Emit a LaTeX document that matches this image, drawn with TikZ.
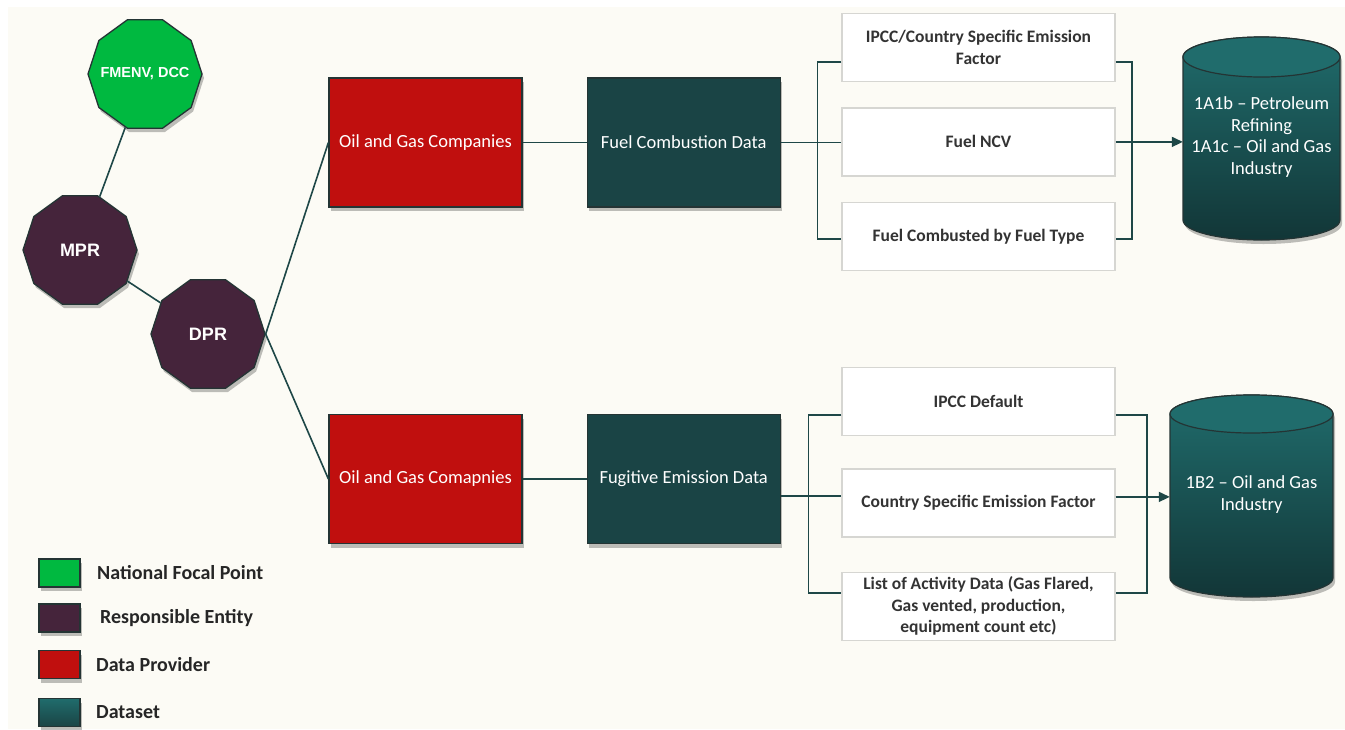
\documentclass[tikz,border=0pt]{standalone}
\usepackage{fontspec}
\setmainfont{Carlito}
\newfontfamily\octfont{Liberation Sans}
\usetikzlibrary{positioning,shapes.geometric,shadows,arrows.meta}

\definecolor{bgcream}{HTML}{FCFBF5}
\definecolor{focalgreen}{HTML}{00B940}
\definecolor{entitypurple}{HTML}{45243B}
\definecolor{providerred}{HTML}{C00F0E}
\definecolor{datateal}{HTML}{1A4445}
\definecolor{linkteal}{HTML}{1E4747}
\definecolor{cyltop}{HTML}{206C6C}
\definecolor{cylbottom}{HTML}{123637}
\definecolor{boxgray}{HTML}{D6D6D2}
\definecolor{textgray}{HTML}{333333}
\definecolor{edgedark}{HTML}{243434}

\tikzset{
  softshadow/.style={drop shadow={shadow xshift=2pt, shadow yshift=-4pt, opacity=0.25, fill=black}},
  entity/.style={regular polygon, regular polygon sides=10, minimum size=114, inner sep=0pt,
    draw=edgedark, line width=1.3pt, text=white, font=\octfont\bfseries\fontsize{18}{20}\selectfont, softshadow},
  provider/.style={rectangle, minimum width=193, minimum height=129, fill=providerred,
    draw=edgedark, line width=1.2pt, text=white, font=\fontsize{18.5}{21}\selectfont, softshadow},
  dataset/.style={provider, fill=datateal},
  factor/.style={rectangle, minimum width=273, minimum height=68, inner sep=2pt, fill=white,
    draw=boxgray, line width=1.4pt, text=textgray, align=center, font=\bfseries\fontsize{17.5}{21.5}\selectfont},
  dbtext/.style={minimum width=157, align=center, text=white, font=\fontsize{18.5}{21.5}\selectfont},
  link/.style={draw=linkteal, line width=1.6pt},
  flow/.style={link, -{Triangle[length=11pt, width=10pt]}},
  legbox/.style={rectangle, minimum width=41, minimum height=28, draw=edgedark, line width=1.3pt, softshadow},
  legtext/.style={anchor=west, text=black!85, font=\bfseries\fontsize{20}{24}\selectfont},
}

\begin{document}
\begin{tikzpicture}[x=1pt, y=-1pt]
    \useasboundingbox (0,0) rectangle (1345,729);
    \fill[white] (0,0) rectangle (1345,729);
    \fill[bgcream] (8,7) rectangle (1345,729);

    % entities
    \node[entity, fill=focalgreen, font=\octfont\bfseries\fontsize{14.5}{16}\selectfont] (fmenv) at (145,74) {\makebox[0pt]{FMENV, DCC}};
    \node[entity, fill=entitypurple] (mpr) at (80,250) {MPR};
    \node[entity, fill=entitypurple] (dpr) at (208,334) {DPR};

    % providers and datasets
    \node[provider] (oil1) at (425.5,142.5) {Oil and Gas Companies};
    \node[dataset, right=64pt of oil1] (fcd) {Fuel Combustion Data};
    \node[provider] (oil2) at (425.5,479) {Oil and Gas Comapnies};
    \node[dataset, right=64pt of oil2] (fed) {Fugitive Emission Data};

    % fuel combustion inputs
    \node[factor] (ief) at (978.5,47.5) {IPCC/Country Specific Emission\\Factor};
    \node[factor, below=25pt of ief] (ncv) {Fuel NCV};
    \node[factor, below=25pt of ncv] (fct) {Fuel Combusted by Fuel Type};

    % fugitive inputs
    \node[factor] (ipd) at (978.5,401.5) {IPCC Default};
    \node[factor, below=32pt of ipd] (csef) {Country Specific Emission Factor};
    \node[factor, below=34pt of csef] (lad) {List of Activity Data (Gas Flared,\\Gas vented, production,\\equipment count etc)};

    % cylinders
    \path[softshadow, top color=cyltop, bottom color=cylbottom, draw=edgedark, line width=1.2pt]
        (1183,57) -- (1183,220) arc[start angle=180, end angle=0, x radius=78.5, y radius=20]
        -- (1340,57) arc[start angle=0, end angle=-180, x radius=78.5, y radius=20] -- cycle;
    \path[fill=cyltop, draw=edgedark, line width=1.2pt] (1261.5,57) ellipse[x radius=78.5, y radius=20];
    \node[dbtext] (db1) at (1261.5,137) {1A1b -- Petroleum\\Refining\\1A1c -- Oil and Gas\\Industry};

    \path[softshadow, top color=cyltop, bottom color=cylbottom, draw=edgedark, line width=1.2pt]
        (1170,414) -- (1170,578) arc[start angle=180, end angle=0, x radius=81.5, y radius=19]
        -- (1333,414) arc[start angle=0, end angle=-180, x radius=81.5, y radius=19] -- cycle;
    \path[fill=cyltop, draw=edgedark, line width=1.2pt] (1251.5,414) ellipse[x radius=81.5, y radius=19];
    \node[dbtext, minimum width=163] (db2) at (1251.5,494.5) {1B2 -- Oil and Gas\\Industry};

    % connectors
    \draw[link] (fmenv) -- (mpr);
    \draw[link] (mpr) -- (dpr);
    \draw[link] (dpr.east) -- (oil1.west);
    \draw[link] (dpr.east) -- (oil2.west);
    \draw[link] (oil1) -- (fcd);
    \draw[link] (oil2) -- (fed);

    \draw[link] (fcd.east) -- (fcd.east -| ncv.west);
    \draw[link] ([yshift=-14.5pt]ief.west) -- ++(-24,0) |- ([yshift=-2.5pt]fct.west);
    \draw[link] ([yshift=-14.5pt]ief.east) -- ++(16,0) |- ([yshift=-2.5pt]fct.east);
    \draw[flow] (ncv.east) -- (ncv.east -| db1.west);

    \draw[link] ([yshift=-17pt]fed.east) -- ([yshift=-17pt]fed.east -| csef.west);
    \draw[link] ([yshift=-13.5pt]ipd.west) -- ++(-33,0) |- ([yshift=13.5pt]lad.west);
    \draw[link] ([yshift=-13.5pt]ipd.east) -- ++(31,0) |- ([yshift=13.5pt]lad.east);
    \draw[flow] ([yshift=6pt]csef.east) -- ([yshift=6pt]csef.east -| db2.west);

    % legend
    \node[legbox, fill=focalgreen] (lg1) at (59.5,573) {};
    \node[legbox, fill=entitypurple] (lg2) at (59.5,618) {};
    \node[legbox, fill=providerred] (lg3) at (59.5,664.5) {};
    \node[legbox, top color=cyltop, bottom color=datateal] (lg4) at (59.5,712.5) {};
    \node[legtext, right=13pt of lg1] (lt1) {National Focal Point};
    \node[legtext, right=16pt of lg2] (lt2) {Responsible Entity};
    \node[legtext, right=12pt of lg3] (lt3) {Data Provider};
    \node[legtext, right=12pt of lg4] (lt4) {Dataset};
\end{tikzpicture}
\end{document}
